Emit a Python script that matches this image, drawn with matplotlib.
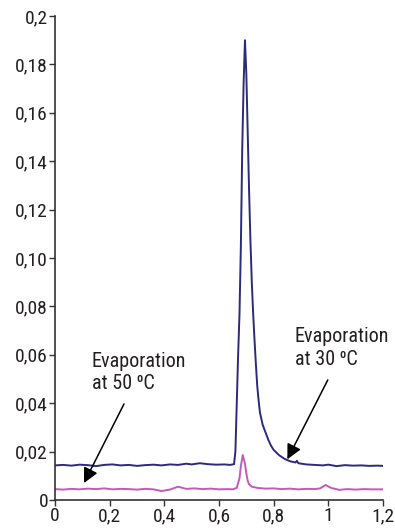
import matplotlib
matplotlib.use("Agg")
import matplotlib.pyplot as plt

# ---- data ----
x_30 = [0.00, 0.03, 0.06, 0.09, 0.12, 0.15, 0.18, 0.21, 0.24, 0.27, 0.30, 0.33, 0.36,
        0.39, 0.42, 0.45, 0.48, 0.50, 0.53, 0.56, 0.59, 0.62, 0.64, 0.655, 0.660,
        0.665, 0.670, 0.675, 0.680, 0.685, 0.690, 0.695, 0.700, 0.705, 0.710, 0.715,
        0.720, 0.725, 0.730, 0.735, 0.740, 0.745, 0.750, 0.760, 0.770, 0.780, 0.790,
        0.800, 0.820, 0.840, 0.860, 0.880, 0.885, 0.890, 0.92, 0.95, 0.98, 1.00, 1.03,
        1.06, 1.09, 1.12, 1.15, 1.18, 1.20]
y_30 = [0.0143, 0.0145, 0.0142, 0.0146, 0.0144, 0.0140, 0.0145, 0.0147, 0.0143, 0.0145,
        0.0141, 0.0144, 0.0146, 0.0143, 0.0147, 0.0145, 0.0150, 0.0147, 0.0152, 0.0148,
        0.0146, 0.0147, 0.0145, 0.0148, 0.0200, 0.040, 0.060, 0.077, 0.105, 0.145,
        0.172, 0.190, 0.176, 0.152, 0.128, 0.107, 0.090, 0.077, 0.066, 0.056, 0.047,
        0.041, 0.036, 0.031, 0.028, 0.025, 0.0225, 0.0207, 0.0185, 0.0170, 0.0160,
        0.0155, 0.0162, 0.0152, 0.0147, 0.0145, 0.0143, 0.0146, 0.0140, 0.0144, 0.0142,
        0.0143, 0.0141, 0.0142, 0.0141]

x_50 = [0.00, 0.03, 0.06, 0.09, 0.12, 0.15, 0.18, 0.21, 0.24, 0.27, 0.30, 0.33, 0.36,
        0.39, 0.42, 0.45, 0.48, 0.51, 0.54, 0.57, 0.60, 0.63, 0.65, 0.665, 0.675, 0.680,
        0.687, 0.695, 0.700, 0.705, 0.710, 0.720, 0.74, 0.77, 0.80, 0.83, 0.86, 0.89,
        0.92, 0.95, 0.97, 0.99, 1.01, 1.04, 1.07, 1.10, 1.13, 1.16, 1.20]
y_50 = [0.0045, 0.0043, 0.0046, 0.0044, 0.0047, 0.0045, 0.0048, 0.0044, 0.0046, 0.0045,
        0.0043, 0.0046, 0.0044, 0.0037, 0.0043, 0.0055, 0.0046, 0.0048, 0.0045, 0.0047,
        0.0044, 0.0045, 0.0044, 0.0050, 0.0090, 0.0140, 0.0186, 0.0150, 0.0110, 0.0080,
        0.0065, 0.0055, 0.0050, 0.0047, 0.0048, 0.0045, 0.0047, 0.0044, 0.0046, 0.0045,
        0.0048, 0.0062, 0.0050, 0.0042, 0.0045, 0.0043, 0.0045, 0.0044, 0.0044]

x_ticks = [0, 0.2, 0.4, 0.6, 0.8, 1.0, 1.2]
x_labels = ["0", "0,2", "0,4", "0,6", "0,8", "1", "1,2"]
y_ticks = [0, 0.02, 0.04, 0.06, 0.08, 0.10, 0.12, 0.14, 0.16, 0.18, 0.2]
y_labels = ["0", "0,02", "0,04", "0,06", "0,08", "0,10", "0,12", "0,14", "0,16", "0,18", "0,2"]

label_50 = "Evaporation\nat 50 \u2070C"
label_30 = "Evaporation\nat 30 \u2070C"

FONT = ["Liberation Sans Narrow", "Roboto Condensed", "DejaVu Sans"]
plt.rcParams["font.family"] = FONT
TXT = "#231f20"

fig = plt.figure(figsize=(3.95, 5.29), dpi=100)
ax = fig.add_axes([55 / 395, 29 / 529, 328 / 395, 484 / 529])

ax.plot(x_30, y_30, color="#2b2a7c", lw=1.4, solid_joinstyle="round")
ax.plot(x_50, y_50, color="#c25bb8", lw=1.4, solid_joinstyle="round")

ax.set_xlim(0, 1.2)
ax.set_ylim(0, 0.2)
ax.set_xticks(x_ticks)
ax.set_xticklabels(x_labels)
ax.set_yticks(y_ticks)
ax.set_yticklabels(y_labels)
for s in ["top", "right"]:
    ax.spines[s].set_visible(False)
for s in ["left", "bottom"]:
    ax.spines[s].set_color("#333333")
    ax.spines[s].set_linewidth(1.2)
ax.tick_params(axis="both", direction="out", length=4, width=1, color="#333333",
               labelsize=14, labelcolor=TXT, pad=1)

ax.text(0.135, 0.0527, label_50, fontsize=14.5, color=TXT, ha="left", va="center",
        linespacing=1.25)
ax.text(0.878, 0.0628, label_30, fontsize=14.5, color=TXT, ha="left", va="center",
        linespacing=1.25)

ax.annotate("", xy=(0.106, 0.0070), xytext=(0.2525, 0.0397),
            arrowprops=dict(arrowstyle="-|>,head_length=0.9,head_width=0.45",
                            color="black", lw=1.1, shrinkA=0, shrinkB=0))
ax.annotate("", xy=(0.850, 0.0168), xytext=(0.998, 0.0496),
            arrowprops=dict(arrowstyle="-|>,head_length=0.9,head_width=0.45",
                            color="black", lw=1.1, shrinkA=0, shrinkB=0))

fig.savefig("out.png", dpi=100)
